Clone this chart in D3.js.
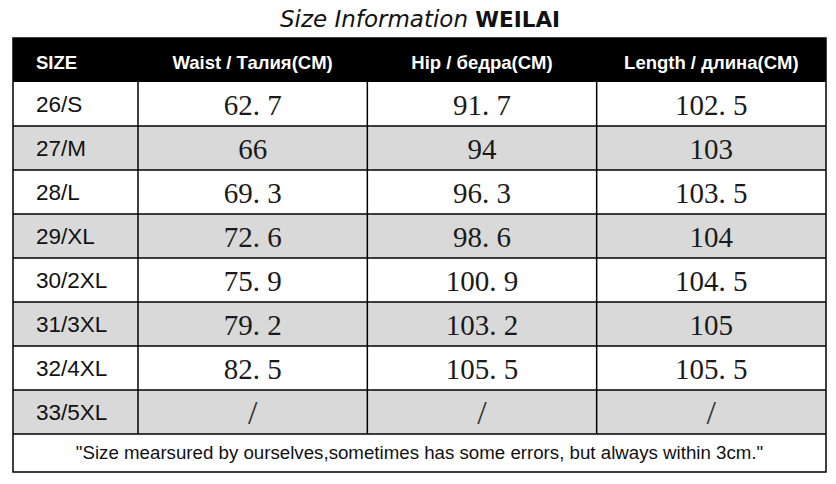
<!DOCTYPE html>
<html>
<head>
<meta charset="utf-8">
<script src="https://cdn.jsdelivr.net/npm/d3@7"></script>
<style>
  body { margin: 0; background: #fff; }
  svg { display: block; }
</style>
</head>
<body>
<div id="chart"></div>
<script>
// table data
const sizes = ["26/S", "27/M", "28/L", "29/XL", "30/2XL", "31/3XL", "32/4XL", "33/5XL"];
const headers = ["SIZE", "Waist / Талия(CM)", "Hip / бедра(CM)", "Length / длина(CM)"];
const waist = [62.7, 66, 69.3, 72.6, 75.9, 79.2, 82.5, null];
const hip = [91.7, 94, 96.3, 98.6, 100.9, 103.2, 105.5, null];
const length = [102.5, 103, 103.5, 104, 104.5, 105, 105.5, null];
const note = "\"Size mearsured by ourselves,sometimes has some errors, but always within 3cm.\"";

const width = 836, height = 484;
const left = 13, right = 826, firstCol = 138;
const headTop = 38, headBottom = 82, bodyBottom = 434, noteBottom = 472;

const svg = d3.select("#chart")
  .append("svg")
    .attr("width", width)
    .attr("height", height);

// title
const title = svg.append("text")
    .attr("x", 420)
    .attr("y", 27)
    .attr("text-anchor", "middle");
title.append("tspan")
    .attr("font-family", "DejaVu Sans")
    .attr("font-style", "italic")
    .attr("font-size", 23)
    .attr("fill", "#111")
    .text("Size Information ");
title.append("tspan")
    .attr("font-family", "DejaVu Sans")
    .attr("font-weight", 900)
    .attr("font-size", 21.5)
    .attr("fill", "#111")
    .text("WEILAI");

const y = d3.scaleBand()
    .domain(sizes)
    .range([headBottom, bodyBottom]);

const x = d3.scaleBand()
    .domain(headers.slice(1))
    .range([firstCol, right]);

const columns = headers.slice(1).map((h, i) => ({key: h, values: [waist, hip, length][i]}));

// header
svg.append("rect")
    .attr("x", left).attr("y", headTop)
    .attr("width", right - left).attr("height", headBottom - headTop)
    .attr("fill", "#000");

svg.append("text")
    .attr("x", 36).attr("y", 68.5)
    .attr("fill", "#fff")
    .attr("font-family", "Liberation Sans, Arial")
    .attr("font-weight", "bold")
    .attr("font-size", 18.5)
    .text(headers[0]);

svg.selectAll(".head")
  .data(headers.slice(1))
  .join("text")
    .attr("class", "head")
    .attr("x", d => x(d) + x.bandwidth() / 2)
    .attr("y", 68.5)
    .attr("text-anchor", "middle")
    .attr("fill", "#fff")
    .attr("font-family", "Liberation Sans, Arial")
    .attr("font-weight", "bold")
    .attr("font-size", 18.5)
    .text(d => d);

// row backgrounds
svg.selectAll(".row")
  .data(sizes)
  .join("rect")
    .attr("class", "row")
    .attr("x", left)
    .attr("y", d => y(d))
    .attr("width", right - left)
    .attr("height", y.bandwidth())
    .attr("fill", (d, i) => i % 2 ? "#d9d9d9" : "#fff");

// size labels
svg.selectAll(".size")
  .data(sizes)
  .join("text")
    .attr("class", "size")
    .attr("x", 36)
    .attr("y", d => y(d) + y.bandwidth() / 2 + 7.5)
    .attr("font-family", "Liberation Sans, Arial")
    .attr("font-size", 22.5)
    .attr("fill", "#111")
    .text(d => d);

// values
const fmt = v => v == null ? "/" : String(v).replace(".", ". ");
columns.forEach(col => {
  svg.selectAll(null)
    .data(col.values)
    .join("text")
      .attr("x", x(col.key) + x.bandwidth() / 2)
      .attr("y", (d, i) => y(sizes[i]) + y.bandwidth() / 2 + (d == null ? 12 : 11))
      .attr("text-anchor", "middle")
      .attr("font-family", "Liberation Serif, serif")
      .attr("font-size", d => d == null ? 34 : 29)
      .attr("font-weight", d => d == null ? 300 : 400)
      .attr("fill", d => d == null ? "#333" : "#1a1a1a")
      .text(fmt);
});

// grid lines
const lines = svg.append("g")
    .attr("stroke", "#000")
    .attr("stroke-width", 1.5);

lines.selectAll(".hline")
  .data(sizes.slice(1).concat(["end"]))
  .join("line")
    .attr("x1", left).attr("x2", right)
    .attr("y1", d => d === "end" ? bodyBottom : y(d))
    .attr("y2", d => d === "end" ? bodyBottom : y(d));

lines.selectAll(".vline")
  .data(headers.slice(1))
  .join("line")
    .attr("x1", d => x(d)).attr("x2", d => x(d))
    .attr("y1", headBottom).attr("y2", bodyBottom);

lines.append("rect")
    .attr("x", left).attr("y", headTop)
    .attr("width", right - left).attr("height", noteBottom - headTop)
    .attr("fill", "none");

// note
svg.append("text")
    .attr("x", (left + right) / 2)
    .attr("y", 459)
    .attr("text-anchor", "middle")
    .attr("font-family", "Liberation Sans, Arial")
    .attr("font-size", 18.7)
    .attr("fill", "#111")
    .text(note);
</script>
</body>
</html>
